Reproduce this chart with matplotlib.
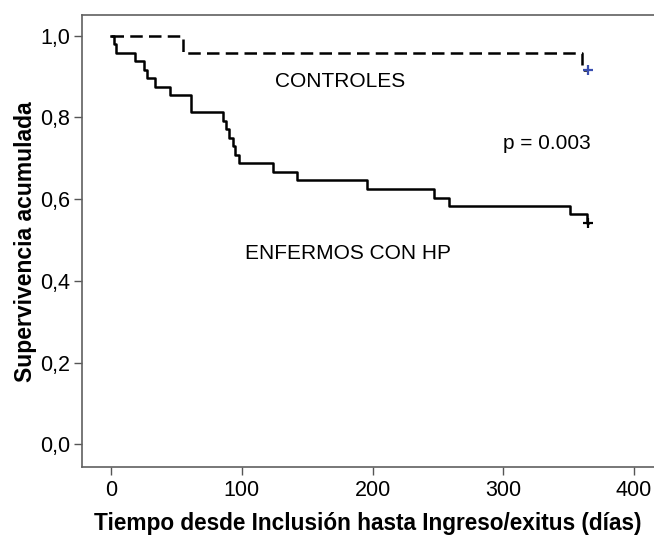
import matplotlib
matplotlib.use("Agg")
import matplotlib.pyplot as plt

plt.rcParams['font.family'] = ['Liberation Sans', 'DejaVu Sans']

# Controles: step times (days) and survival after each step
ctrl_t = [0, 55, 360, 365]
ctrl_s = [1.0, 0.958, 0.917, 0.917]
ctrl_cens_t = [365]
ctrl_cens_s = [0.917]

# Enfermos con HP
hp_t = [0, 2, 4, 18, 25, 27.5, 33.5, 45, 61, 85.5, 88, 90.5, 93, 95, 97.5,
        124, 142.5, 196, 247, 258.5, 351, 364, 365]
hp_s = [1.0, 0.979, 0.958, 0.9375, 0.917, 0.896, 0.875, 0.854, 0.8125,
        0.792, 0.771, 0.75, 0.729, 0.708, 0.6875,
        0.667, 0.646, 0.625, 0.604, 0.583, 0.5625, 0.542, 0.542]
hp_cens_t = [365]
hp_cens_s = [0.542]

x_ticks = [0, 100, 200, 300, 400]
y_ticks = [0.0, 0.2, 0.4, 0.6, 0.8, 1.0]
y_ticklabels = ['0,0', '0,2', '0,4', '0,6', '0,8', '1,0']

fig = plt.figure(figsize=(6.54, 5.36), dpi=100)
ax = fig.add_axes([0.1258, 0.1278, 0.8742, 0.8442])

ax.step(ctrl_t, ctrl_s, where='post', color='black', lw=1.8,
        linestyle=(0, (5, 2.5)))
ax.plot(ctrl_cens_t, ctrl_cens_s, '+', color='#3a4fb0', ms=7, mew=1.6)
ax.step(hp_t, hp_s, where='post', color='black', lw=1.8)
ax.plot(hp_cens_t, hp_cens_s, '+', color='black', ms=7, mew=1.6)

ax.text(175, 0.889, 'CONTROLES', ha='center', va='center', fontsize=15)
ax.text(333, 0.735, 'p = 0.003', ha='center', va='center', fontsize=15)
ax.text(181, 0.468, 'ENFERMOS CON HP', ha='center', va='center', fontsize=15)

ax.set_xlim(-22, 415.3)
ax.set_ylim(-0.0568, 1.0507)
ax.set_xticks(x_ticks)
ax.set_yticks(y_ticks)
ax.set_yticklabels(y_ticklabels)
ax.tick_params(labelsize=15.5, length=6, width=1, color='#555555', pad=3)

for side in ['left', 'bottom', 'top']:
    ax.spines[side].set_color('#606060')
    ax.spines[side].set_linewidth(1.2)
ax.spines['right'].set_visible(False)

ax.set_xlabel('Tiempo desde Inclusión hasta Ingreso/exitus (días)',
              fontsize=16.3, fontweight='bold', labelpad=8)
ax.set_ylabel('Supervivencia acumulada', fontsize=16.5, fontweight='bold',
              labelpad=2)

fig.savefig('out.png', dpi=100)
